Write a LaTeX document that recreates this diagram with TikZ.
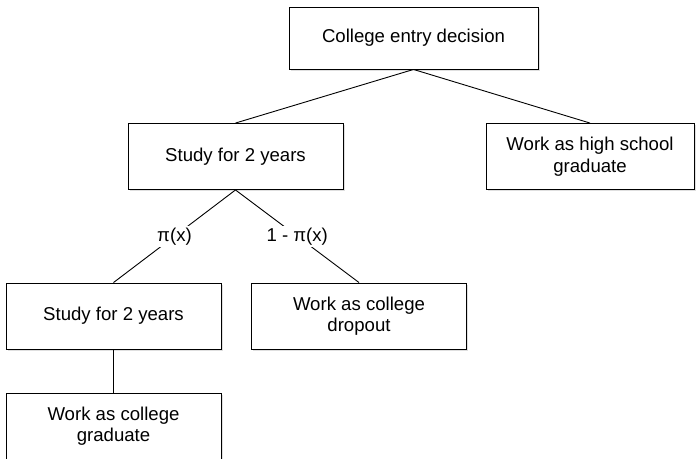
\documentclass[tikz,border=0pt]{standalone}
\usepackage{fontspec}
\setmainfont{Liberation Sans}
\usetikzlibrary{positioning,shadows}

\begin{document}
\begin{tikzpicture}[x=1pt,y=-1pt,font=\fontsize{18.6}{21.5}\selectfont,
    box/.style={draw, line width=0.9pt, fill=white, text centered, align=center, inner sep=0pt,
        minimum width=215pt, minimum height=66pt,
        drop shadow={shadow xshift=1.5pt, shadow yshift=-1.5pt, fill=black!25}},
    prob/.style={fill=white, inner sep=2pt}]
    \clip (0,0) rectangle (696,458);

    \node[box, minimum width=249pt, minimum height=62pt] (n1) at (413.5, 38) {College entry decision};

    \node[box] (n2) at (235.5, 156.5) {Study for 2 years};
    \node[box, minimum width=208pt] (n3) at (590, 156.5) {Work as high school\\graduate};

    \node[box] (n4) at (113.5, 316) {Study for 2 years};
    \node[box] (n5) at (359, 316) {Work as college\\dropout};

    \node[box] (n6) at (113.5, 426) {Work as college\\graduate};

    \path[line width=0.9pt, every node/.style={prob}]
        (n1.south) edge (n2.north)
        (n1.south) edge (n3.north)

        (n2.south) edge node {π(x)} (n4.north)
        (n2.south) edge node {1 - π(x)} (n5.north)

        (n4.south) edge (n6.north);
\end{tikzpicture}
\end{document}
